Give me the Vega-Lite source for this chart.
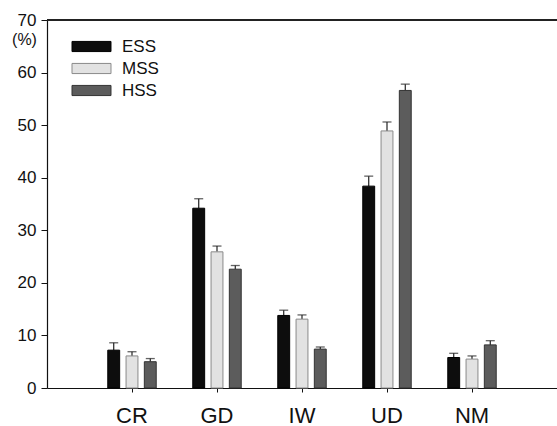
{
  "$schema": "https://vega.github.io/schema/vega-lite/v6.json",
  "width": 510,
  "height": 368,
  "autosize": {"type": "none"},
  "padding": {"left": 47, "top": 20, "right": 0, "bottom": 38},
  "background": "white",
  "config": {
    "view": {"stroke": null},
    "font": "Liberation Sans",
    "axis": {"grid": false, "domainColor": "#111", "tickColor": "#111", "labelColor": "#111", "titleColor": "#111", "labelFont": "Liberation Sans", "titleFont": "Liberation Sans"}
  },
  "data": {
    "values": [
      {"cat": "CR", "group": "ESS", "value": 7.2, "upper": 8.6},
      {"cat": "CR", "group": "MSS", "value": 6.1, "upper": 6.9},
      {"cat": "CR", "group": "HSS", "value": 5.0, "upper": 5.6},
      {"cat": "GD", "group": "ESS", "value": 34.2, "upper": 36.0},
      {"cat": "GD", "group": "MSS", "value": 25.9, "upper": 27.0},
      {"cat": "GD", "group": "HSS", "value": 22.6, "upper": 23.3},
      {"cat": "IW", "group": "ESS", "value": 13.8, "upper": 14.8},
      {"cat": "IW", "group": "MSS", "value": 13.1, "upper": 13.9},
      {"cat": "IW", "group": "HSS", "value": 7.4, "upper": 7.8},
      {"cat": "UD", "group": "ESS", "value": 38.4, "upper": 40.3},
      {"cat": "UD", "group": "MSS", "value": 48.9, "upper": 50.6},
      {"cat": "UD", "group": "HSS", "value": 56.6, "upper": 57.8},
      {"cat": "NM", "group": "ESS", "value": 5.8, "upper": 6.6},
      {"cat": "NM", "group": "MSS", "value": 5.5, "upper": 6.1},
      {"cat": "NM", "group": "HSS", "value": 8.2, "upper": 9.0}
    ]
  },
  "encoding": {
    "x": {
      "field": "cat", "type": "nominal", "sort": ["CR", "GD", "IW", "UD", "NM"],
      "scale": {"paddingInner": 0, "paddingOuter": 0.5},
      "axis": {"title": null, "labelAngle": 0, "labelFontSize": 22, "labelPadding": 13, "tickSize": 4, "domainWidth": 1.2}
    },
    "xOffset": {
      "field": "group", "type": "nominal", "sort": ["ESS", "MSS", "HSS"],
      "scale": {"paddingInner": 0.35, "paddingOuter": 1.175}
    }
  },
  "layer": [
    {
      "mark": {"type": "rule", "color": "#222", "strokeWidth": 1},
      "encoding": {"x": null, "xOffset": null, "y": {"datum": 70, "type": "quantitative"}}
    },
    {
      "mark": {"type": "rule", "color": "#222", "strokeWidth": 1.2},
      "encoding": {
        "y": {"field": "value", "type": "quantitative"},
        "y2": {"field": "upper"}
      }
    },
    {
      "mark": {"type": "tick", "color": "#222", "thickness": 1.3, "size": 9},
      "encoding": {
        "y": {"field": "upper", "type": "quantitative"}
      }
    },
    {
      "mark": {"type": "bar", "strokeWidth": 1},
      "encoding": {
        "y": {
          "field": "value", "type": "quantitative",
          "scale": {"domain": [0, 70], "nice": false},
          "axis": {"values": [0, 10, 20, 30, 40, 50, 60, 70], "tickSize": 6, "labelFontSize": 17, "labelPadding": 5, "domainWidth": 1.2, "title": "(%)", "titleAngle": 0, "titleFontSize": 16, "titleFontWeight": "normal", "titleAlign": "center", "titleBaseline": "alphabetic", "titleX": -23, "titleY": 24}
        },
        "color": {
          "field": "group", "type": "nominal", "sort": ["ESS", "MSS", "HSS"],
          "scale": {"domain": ["ESS", "MSS", "HSS"], "range": ["#0d0d0d", "#e2e2e2", "#5c5c5c"]},
          "legend": {"title": null, "orient": "none", "legendX": 34, "legendY": 16, "padding": 0, "symbolType": "M-2,-0.52H2V0.52H-2Z", "symbolSize": 380, "symbolStrokeColor": "#333", "symbolStrokeWidth": 1, "symbolOpacity": 1, "labelFontSize": 17, "labelOffset": 20, "rowPadding": 3, "labelColor": "#111", "labelFont": "Liberation Sans"}
        },
        "stroke": {
          "field": "group", "type": "nominal",
          "scale": {"domain": ["ESS", "MSS", "HSS"], "range": ["#000000", "#8a8a8a", "#333333"]},
          "legend": null
        }
      }
    }
  ]
}
